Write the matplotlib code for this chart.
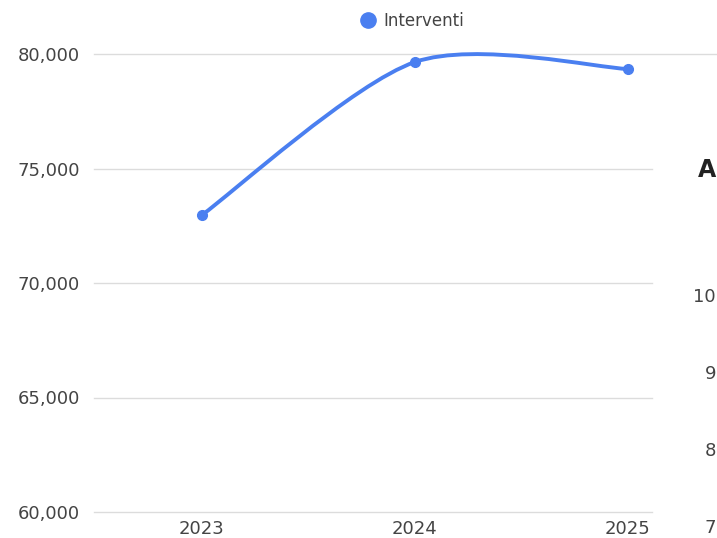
import numpy as np
import matplotlib
matplotlib.use('Agg')
import matplotlib.pyplot as plt
from matplotlib.path import Path
from matplotlib.patches import PathPatch
from matplotlib.lines import Line2D

# Data
years = [2023, 2024, 2025]
interventi = [72970, 79650, 79345]
yticks = [60000, 65000, 70000, 75000, 80000]
series_name = 'Interventi'

# visible bits of the neighbouring chart on the right
side_title = 'A'
side_labels = ['10', '9', '8', '7']

blue = '#4a7ff0'
txt = '#444444'
grid = '#dcdcdc'

W, H = 717, 538
fig = plt.figure(figsize=(W / 100, H / 100), dpi=100)
ax = fig.add_axes([94 / W, (H - 512) / H, (652 - 94) / W, (512 - 54) / H])

ax.set_xlim(2022.493, 2025.113)
ax.set_ylim(60000, 80000)

# gridlines (the top one runs on into the next chart)
for v in yticks:
    ax.axhline(v, color=grid, lw=1, zorder=0,
               xmax=(W - 94) / (652 - 94) if v == yticks[-1] else 1,
               clip_on=False)

# smooth line through the points (cubic bezier, catmull-rom style tangents)
x = np.array(years, dtype=float)
y = np.array(interventi, dtype=float)
k = 1 / 7
verts = [(x[0], y[0])]
codes = [Path.MOVETO]
n = len(x)
for i in range(n - 1):
    prev_i = max(i - 1, 0)
    next_i = min(i + 2, n - 1)
    c1 = (x[i] + k * (x[i + 1] - x[prev_i]), y[i] + k * (y[i + 1] - y[prev_i]))
    c2 = (x[i + 1] - k * (x[next_i] - x[i]), y[i + 1] - k * (y[next_i] - y[i]))
    verts += [c1, c2, (x[i + 1], y[i + 1])]
    codes += [Path.CURVE4] * 3
curve = PathPatch(Path(verts, codes), fill=False, edgecolor=blue, lw=2.8,
                  capstyle='round', joinstyle='round', clip_on=False, zorder=3)
ax.add_patch(curve)
ax.plot(years, interventi, ls='', marker='o', ms=7, color=blue, zorder=4,
        clip_on=False)

ax.set_xticks(years)
ax.set_xticklabels([str(v) for v in years])
ax.set_yticks(yticks)
ax.set_yticklabels(['{:,}'.format(v) for v in yticks])
ax.tick_params(axis='both', length=0, labelsize=13, labelcolor=txt)
ax.tick_params(axis='x', pad=6)
ax.tick_params(axis='y', pad=10)
for s in ax.spines.values():
    s.set_visible(False)

handle = Line2D([], [], ls='', marker='o', ms=11, color=blue)
fig.legend([handle], [series_name], loc='center', bbox_to_anchor=(412 / W, 1 - 21 / H),
           frameon=False, fontsize=12, labelcolor=txt, handletextpad=0.4,
           handlelength=1.0, borderpad=0)

# fragments of the next chart at the right edge
fig.text(716 / W, 1 - 170 / H, side_title, fontsize=17, fontweight='bold',
         color='#222222', ha='right', va='center')
for i, lab in enumerate(side_labels):
    fig.text(716 / W, 1 - (297 + 77 * i) / H, lab, fontsize=13, color=txt,
             ha='right', va='center')

fig.savefig('out.png', dpi=100)
